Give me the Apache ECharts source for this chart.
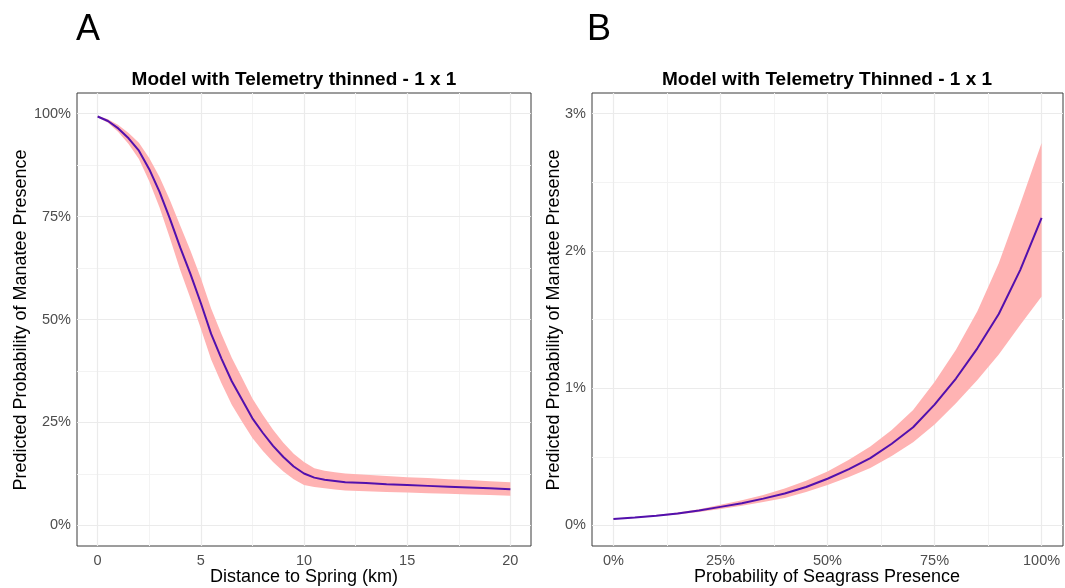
<!DOCTYPE html>
<html>
<head>
<meta charset="utf-8">
<script src="https://cdn.jsdelivr.net/npm/echarts@6/dist/echarts.min.js"></script>
<style>
html,body{margin:0;padding:0;background:#fff;}
#chart{width:1065px;height:588px;}
</style>
</head>
<body>
<div id="chart"></div>
<script>
// ---- Panel A data (distance to spring, km -> predicted probability, %)
const distKm = [0,0.5,1,1.5,2,2.5,3,3.5,4,4.5,5,5.5,6,6.5,7,7.5,8,8.5,9,9.5,10,10.5,11,11.5,12,13,14,15,16,17,18,19,20];
const probA  = [99.3,98.2,96.4,94.0,91.0,86.5,81.0,74.5,67.5,61.0,54.0,46.5,40.5,35.0,30.5,26.0,22.5,19.3,16.6,14.3,12.6,11.6,11.1,10.8,10.5,10.3,10.0,9.8,9.6,9.4,9.2,9.0,8.8];
const lowA   = [99.1,97.8,95.5,92.6,89.0,83.6,77.2,69.8,62.0,55.1,47.8,40.3,34.5,29.3,25.2,21.2,18.1,15.4,13.1,11.2,9.8,9.3,9.0,8.7,8.5,8.3,8.1,8.0,7.8,7.7,7.5,7.4,7.2];
const highA  = [99.5,98.6,97.2,95.3,92.9,89.2,84.6,79.0,72.8,66.7,60.1,52.7,46.5,40.7,35.8,30.8,26.9,23.2,20.1,17.4,15.4,13.9,13.3,12.9,12.6,12.3,12.0,11.7,11.5,11.2,11.0,10.7,10.5];

// ---- Panel B data (seagrass presence probability, % -> predicted probability, %)
const seagrass = [0,5,10,15,20,25,30,35,40,45,50,55,60,65,70,75,80,85,90,95,100];
const probB  = [0.047,0.058,0.071,0.087,0.108,0.135,0.162,0.195,0.232,0.280,0.340,0.410,0.490,0.595,0.715,0.880,1.070,1.290,1.540,1.860,2.240];
const lowB   = [0.044,0.054,0.066,0.080,0.098,0.120,0.143,0.171,0.200,0.243,0.295,0.352,0.418,0.505,0.605,0.735,0.890,1.060,1.245,1.460,1.668];
const highB  = [0.050,0.062,0.076,0.094,0.118,0.151,0.183,0.221,0.268,0.325,0.392,0.478,0.575,0.695,0.840,1.045,1.280,1.560,1.910,2.340,2.785];

// ---- Tick labels / grid breaks
const xTicksA = [0,5,10,15,20];
const xMinorA = [2.5,7.5,12.5,17.5];
const yTicksA = [0,25,50,75,100];
const yMinorA = [12.5,37.5,62.5,87.5];
const xTicksB = [0,25,50,75,100];
const xMinorB = [12.5,37.5,62.5,87.5];
const yTicksB = [0,1,2,3];
const yMinorB = [0.5,1.5,2.5];

const titleA = 'Model with Telemetry thinned - 1 x 1';
const titleB = 'Model with Telemetry Thinned - 1 x 1';
const xNameA = 'Distance to Spring (km)';
const xNameB = 'Probability of Seagrass Presence';
const yName = 'Predicted Probability of Manatee Presence';

const FONT = '"Liberation Sans", Arial, sans-serif';
const LINE_COLOR = '#5210ad';
const BAND_COLOR = '#ffb3b3';
const GRID_MAJOR = '#ebebeb';
const GRID_MINOR = '#f3f3f3';
const TICK_COLOR = '#4d4d4d';

function zip(xs, ys){ return xs.map((x,i)=>[x, ys[i]]); }
function gridLines(xMaj, xMin, yMaj, yMin){
  const d = [];
  xMin.forEach(v=>d.push({xAxis:v, lineStyle:{color:GRID_MINOR,width:1,type:'solid'}}));
  yMin.forEach(v=>d.push({yAxis:v, lineStyle:{color:GRID_MINOR,width:1,type:'solid'}}));
  xMaj.forEach(v=>d.push({xAxis:v, lineStyle:{color:GRID_MAJOR,width:1.2,type:'solid'}}));
  yMaj.forEach(v=>d.push({yAxis:v, lineStyle:{color:GRID_MAJOR,width:1.2,type:'solid'}}));
  return {silent:true, symbol:['none','none'], label:{show:false}, animation:false, z:1, data:d};
}

function bandSeries(idx, xs, lo, hi){
  return {
    type:'custom', coordinateSystem:'cartesian2d', xAxisIndex:idx, yAxisIndex:idx,
    data: zip(xs, lo).slice(0,1), clip:true, silent:true, z:2,
    renderItem: function(params, api){
      const pts = [];
      for (let i = 0; i < xs.length; i++) pts.push(api.coord([xs[i], lo[i]]));
      for (let i = xs.length - 1; i >= 0; i--) pts.push(api.coord([xs[i], hi[i]]));
      return {type:'polygon', shape:{points:pts}, style:{fill:BAND_COLOR, stroke:null}};
    }
  };
}
function curveSeries(idx, xs, ys, ml){
  return {type:'line', xAxisIndex:idx, yAxisIndex:idx, data:zip(xs, ys), symbol:'none',
    smooth:false, lineStyle:{color:LINE_COLOR, width:2}, z:3, silent:true, markLine: ml};
}

function xAxisCfg(idx, min, max, ticks, fmt){
  return {type:'value', gridIndex:idx, min:min, max:max,
    axisLine:{show:false}, axisTick:{show:false}, splitLine:{show:false}, minorSplitLine:{show:false},
    axisLabel:{customValues:ticks, color:TICK_COLOR, fontSize:14.5, fontFamily:FONT, margin:7, formatter:fmt}};
}
function yAxisCfg(idx, min, max, ticks, fmt){
  return {type:'value', gridIndex:idx, min:min, max:max,
    axisLine:{show:false}, axisTick:{show:false}, splitLine:{show:false}, minorSplitLine:{show:false},
    axisLabel:{customValues:ticks, color:TICK_COLOR, fontSize:14.5, fontFamily:FONT, margin:6, formatter:fmt}};
}

const chart = echarts.init(document.getElementById('chart'), null, {renderer:'canvas'});
const option = {
  animation:false,
  backgroundColor:'#ffffff',
  grid:[
    {left:77, top:93, width:454, height:453, show:true, borderColor:'#3a3a3a', borderWidth:1, backgroundColor:'transparent', containLabel:false},
    {left:592, top:93, width:471, height:453, show:true, borderColor:'#3a3a3a', borderWidth:1, backgroundColor:'transparent', containLabel:false}
  ],
  xAxis:[
    xAxisCfg(0, -1, 21, xTicksA, v=>String(v)),
    xAxisCfg(1, -5, 105, xTicksB, v=>v+'%')
  ],
  yAxis:[
    yAxisCfg(0, -5, 105, yTicksA, v=>v+'%'),
    yAxisCfg(1, -0.15, 3.15, yTicksB, v=>v+'%')
  ],
  series:[
    bandSeries(0, distKm, lowA, highA),
    curveSeries(0, distKm, probA, gridLines(xTicksA, xMinorA, yTicksA, yMinorA)),
    bandSeries(1, seagrass, lowB, highB),
    curveSeries(1, seagrass, probB, gridLines(xTicksB, xMinorB, yTicksB, yMinorB))
  ],
  graphic:[
    {type:'text', x:76, y:30, style:{text:'A', font:'36px '+FONT, fill:'#000', verticalAlign:'middle', align:'left'}},
    {type:'text', x:587, y:30, style:{text:'B', font:'36px '+FONT, fill:'#000', verticalAlign:'middle', align:'left'}},
    {type:'text', x:294, y:80, style:{text:titleA, font:'bold 19px '+FONT, fill:'#000', verticalAlign:'middle', align:'center'}},
    {type:'text', x:827, y:80, style:{text:titleB, font:'bold 19px '+FONT, fill:'#000', verticalAlign:'middle', align:'center'}},
    {type:'text', x:304, y:577, style:{text:xNameA, font:'18px '+FONT, fill:'#000', verticalAlign:'middle', align:'center'}},
    {type:'text', x:827, y:577, style:{text:xNameB, font:'18px '+FONT, fill:'#000', verticalAlign:'middle', align:'center'}},
    {type:'text', x:21, y:320, rotation:Math.PI/2, style:{text:yName, font:'18px '+FONT, fill:'#000', verticalAlign:'middle', align:'center'}},
    {type:'text', x:554, y:320, rotation:Math.PI/2, style:{text:yName, font:'18px '+FONT, fill:'#000', verticalAlign:'middle', align:'center'}}
  ]
};
chart.setOption(option);
</script>
</body>
</html>
